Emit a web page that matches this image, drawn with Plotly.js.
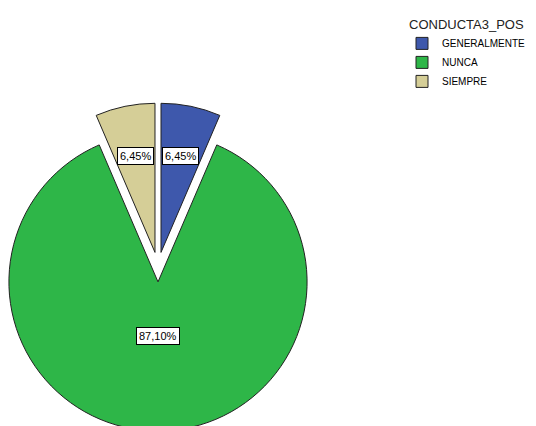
<!DOCTYPE html>
<html>
<head>
<meta charset="utf-8">
<script src="https://cdn.plot.ly/plotly-3.0.1.min.js"></script>
<style>
html,body{margin:0;padding:0;overflow:hidden;background:#fff;width:536px;height:426px;}
#chart{position:absolute;left:-6px;top:0;width:548px;height:432px;}
</style>
</head>
<body>
<div id="chart"></div>
<script>
const categories = ["GENERALMENTE", "NUNCA", "SIEMPRE"];
const counts = [2, 27, 2];
const colors = ["#3E58AC", "#2EB648", "#D5CE97"];
const legendTitle = "CONDUCTA3_POS";

const W = 548, H = 432;
const PULL = 0.1;
const domX = [0, 328 / W];
const domY = [1 - 431 / H, 1 - 103 / H];

const trace = {
  type: "pie",
  labels: categories,
  values: counts,
  sort: false,
  direction: "clockwise",
  rotation: 0,
  pull: categories.map(() => PULL),
  marker: {colors: colors, line: {color: "#222", width: 1}},
  textinfo: "none",
  hoverinfo: "label+percent",
  domain: {x: domX, y: domY}
};

// percentage labels in boxes, placed from the pie's own geometry (domain, pull, values)
const total = counts.reduce((a, b) => a + b, 0);
const boxW = W * (domX[1] - domX[0]), boxH = H * (domY[1] - domY[0]);
const R = Math.min(boxW, boxH) / (2 + 2 * PULL);
const cx = W * (domX[0] + domX[1]) / 2;
const cy = H * (1 - domY[0]) - boxH / 2;
let cum = 0;
const annotations = counts.map((v, i) => {
  const frac = v / total;
  const half = Math.PI * frac;            // half-angle of slice
  const mid = 2 * Math.PI * cum + half;    // clockwise from 12 o'clock
  cum += frac;
  const centroid = (2 * R * Math.sin(half)) / (3 * half);
  const dist = R * PULL + Math.max(centroid, 0.36 * R);
  const x = cx + dist * Math.sin(mid);
  const y = cy - dist * Math.cos(mid);
  return {
    xref: "paper", yref: "paper",
    x: x / W, y: 1 - y / H,
    xanchor: "center", yanchor: "middle",
    showarrow: false,
    text: (frac * 100).toFixed(2).replace(".", ",") + "%",
    font: {family: "Liberation Sans, Arial, sans-serif", size: 11, color: "#000"},
    bgcolor: "#fff", bordercolor: "#000", borderwidth: 1, borderpad: 2
  };
});

const layout = {
  width: W, height: H,
  margin: {l: 0, r: 0, t: 0, b: 0},
  paper_bgcolor: "#fff",
  separators: ",.",
  showlegend: true,
  annotations: annotations,
  legend: {
    x: 408 / W, y: 1 - 12 / H, xanchor: "left", yanchor: "top",
    bgcolor: "rgba(0,0,0,0)",
    font: {family: "Liberation Sans, Arial, sans-serif", size: 10, color: "#000"},
    title: {text: legendTitle, side: "top center", font: {family: "Liberation Sans, Arial, sans-serif", size: 13, color: "#222"}},
    traceorder: "normal"
  }
};

Plotly.newPlot("chart", [trace], layout, {displayModeBar: false, staticPlot: true});
</script>
</body>
</html>
